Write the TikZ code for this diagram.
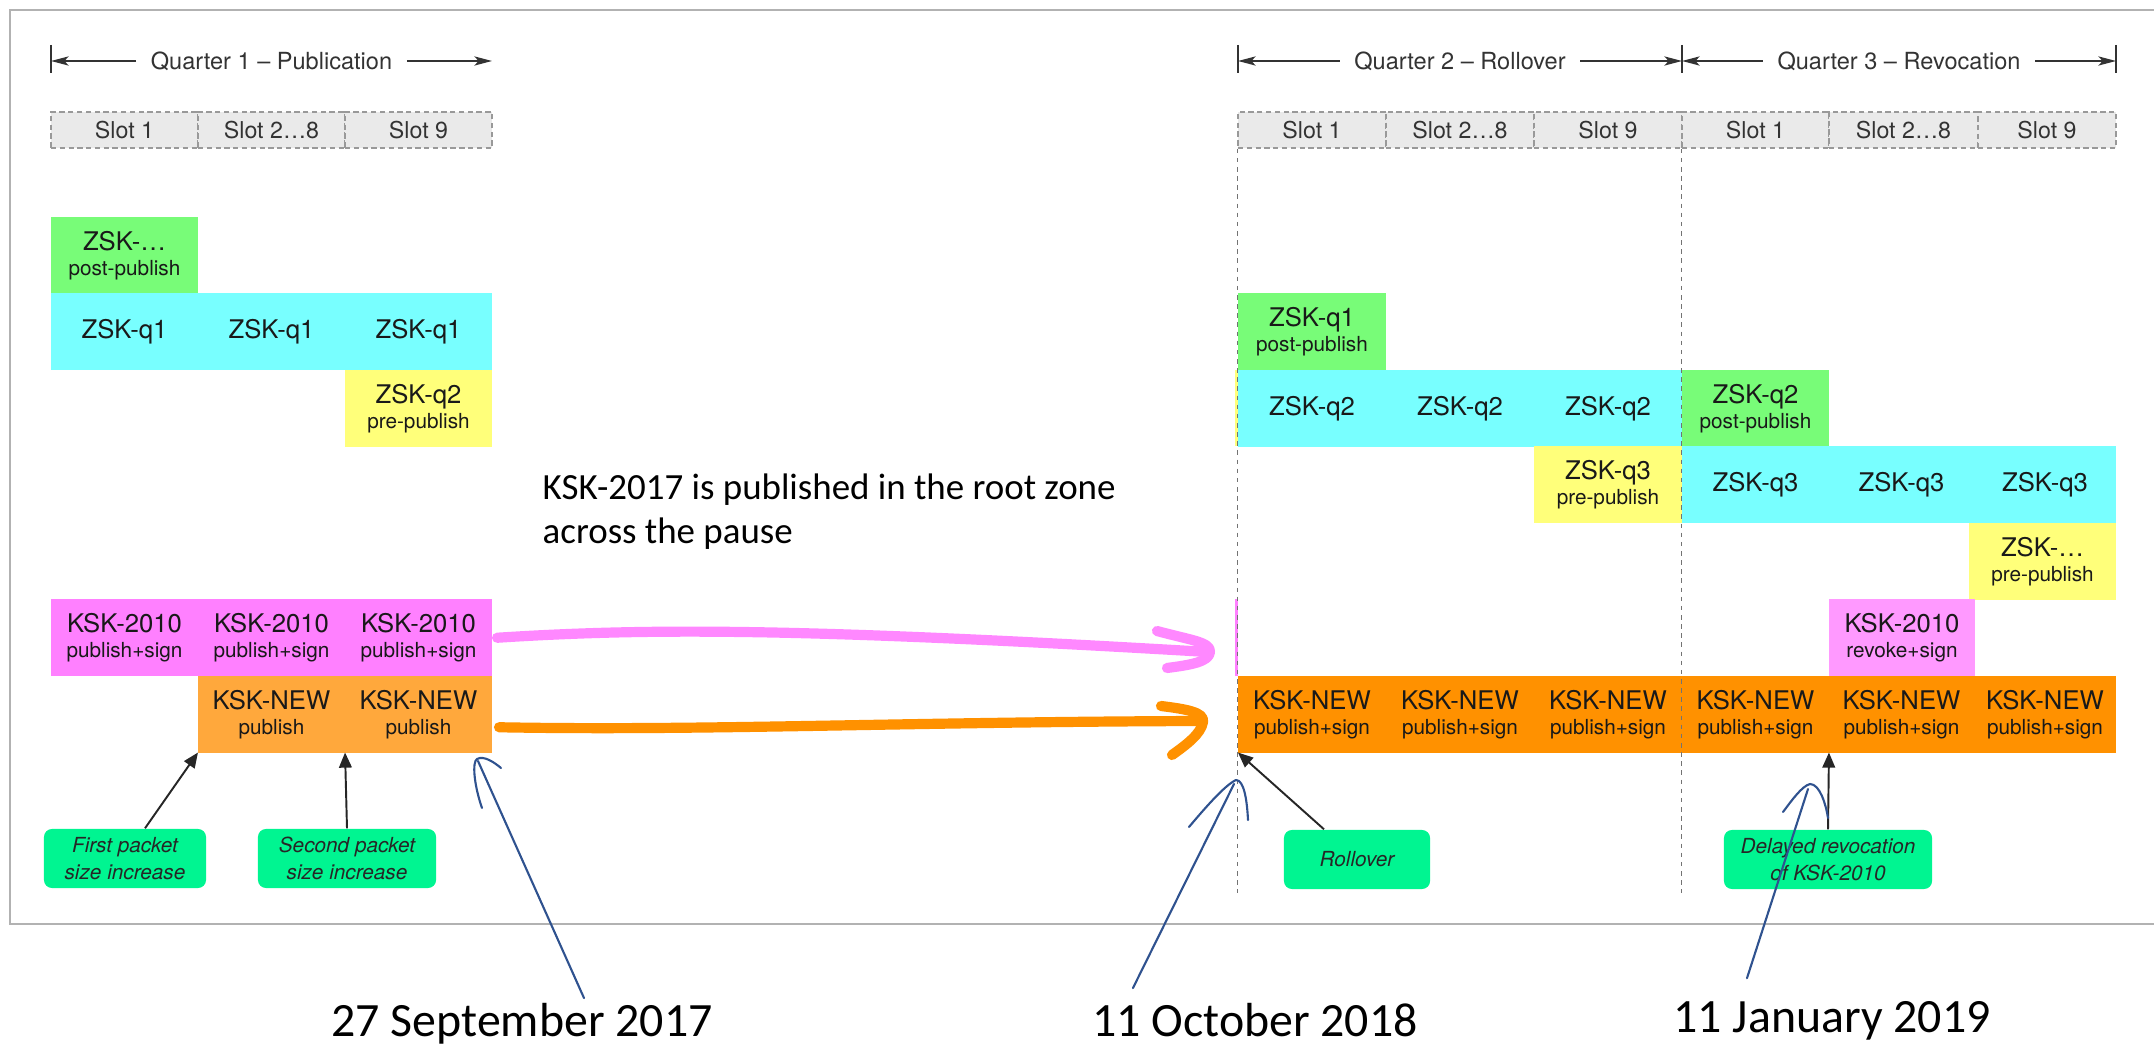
\documentclass[tikz,border=0pt]{standalone}
\usepackage{fontspec}
\newfontfamily\diagfont{TeX Gyre Heros}
\newfontfamily\notefont{Carlito}
\usepackage{xcolor}
\definecolor{postgreen}{RGB}{120,252,120}
\definecolor{zskcyan}{RGB}{120,255,255}
\definecolor{preyellow}{RGB}{255,255,122}
\definecolor{kskpink}{RGB}{255,128,255}
\definecolor{revpink}{RGB}{255,153,255}
\definecolor{neworange}{RGB}{255,145,0}
\definecolor{pubslot}{RGB}{255,168,60}
\definecolor{mint}{RGB}{0,245,145}
\definecolor{slotfill}{RGB}{234,234,234}
\definecolor{handblue}{RGB}{47,82,143}
\definecolor{arrowpink}{RGB}{255,136,255}
\usepackage{tikz}
\usetikzlibrary{positioning,arrows.meta}

\newcommand{\kfont}{\diagfont\fontsize{7.3}{7.1}\selectfont}
\newcommand{\ksub}{\fontsize{5.9}{6.6}\selectfont}
\newcommand{\keytxt}[2]{#1\\{\ksub #2}}

\begin{document}
\begin{tikzpicture}[x=0.01cm, y=-0.01cm,
  cell/.style={inner sep=0pt, outer sep=0pt, minimum height=0.765cm, minimum width=1.47cm, align=center, font=\kfont, text=black!90},
  wide/.style={minimum width=1.48cm},
  postpub/.style={cell, fill=postgreen},
  active/.style={cell, fill=zskcyan},
  prepub/.style={cell, fill=preyellow},
  oldksk/.style={cell, fill=kskpink},
  newksk/.style={cell, fill=neworange},
  slotbox/.style={draw=black!40, dash pattern=on 1.5pt off 1pt, line width=0.4pt, fill=slotfill, inner sep=0pt, minimum height=0.36cm, font=\diagfont\fontsize{6.6}{8}\selectfont, text=black!80},
  quarter/.style={inner xsep=4pt, inner ysep=0pt, font=\diagfont\fontsize{6.7}{8}\selectfont, text=black!80},
  span/.style={line width=0.6pt, black!80, -{Stealth[length=5pt,width=2.6pt,inset=1.2pt]}},
  bar/.style={line width=0.7pt, black!80},
  guide/.style={black!55, line width=0.4pt, dash pattern=on 1.3pt off 1.3pt},
  callout/.style={fill=mint, rounded corners=0.08cm, inner sep=0pt, minimum height=0.59cm, align=center, font=\diagfont\itshape\fontsize{5.9}{7.7}\selectfont, text=black!85},
  pointer/.style={line width=0.55pt, black!85, -{Triangle[length=4.3pt,width=3.6pt]}},
  fatpink/.style={arrowpink, line width=2.9pt, line cap=round, line join=round},
  fatorange/.style={neworange, line width=2.9pt, line cap=round, line join=round},
  hand/.style={handblue, line width=0.6pt, line cap=round, line join=round},
  date/.style={inner sep=0pt, text depth=0pt, font=\notefont\fontsize{13.6}{16}\selectfont, anchor=base}]

\useasboundingbox (0,0) rectangle (2154,1046);
\draw[black!30, line width=0.5pt] (10,10) rectangle (2190,924); %%% outer frame

%%% quarters
\coordinate (q1l) at (51,61);
\coordinate (q1r) at (492,61);
\coordinate (q2l) at (1238,61);
\coordinate (q23) at (1682,61);
\coordinate (q3r) at (2116,61);
\node[quarter] (q1) at (271.5,61) {Quarter 1 – Publication};
\node[quarter] (q2) at (1460,61) {Quarter 2 – Rollover};
\node[quarter] (q3) at (1899,61) {Quarter 3 – Revocation};
\draw[span] (q1) -- (q1l);
\draw[span] (q1) -- (q1r);
\draw[span] (q2) -- (q2l);
\draw[span] (q2) -- (q23);
\draw[span] (q3) -- (q23);
\draw[span] (q3) -- (q3r);
\foreach \c in {q1l,q2l,q23,q3r}
  \draw[bar] (\c) ++(0,-16) -- ++(0,28);

%%% slots
\foreach \x/\lab [count=\i] in {124.5/Slot 1, 271.5/Slot 2…8, 418.5/Slot 9}
  \node[slotbox, minimum width=1.47cm] (sl\i) at (\x,130) {\lab};
\foreach \x/\w/\lab [count=\i from 4] in {1312/1.48/Slot 1, 1460/1.48/Slot 2…8, 1608/1.48/Slot 9, 1755.5/1.47/Slot 1, 1903.5/1.49/Slot 2…8, 2047/1.38/Slot 9}
  \node[slotbox, minimum width=\w cm] (sl\i) at (\x,130) {\lab};

%%% quarter 1 keys
\node[postpub] (zdots) at (124.5,255.25) {\keytxt{ZSK-…}{post-publish}};
\foreach \x [count=\i] in {124.5,271.5,418.5}
  \node[active] (zqa\i) at (\x,331.75) {ZSK-q1};
\node[prepub] (zqb1) at (418.5,408.25) {\keytxt{ZSK-q2}{pre-publish}};
\foreach \x [count=\i] in {124.5,271.5,418.5}
  \node[oldksk] (ko\i) at (\x,637.75) {\keytxt{KSK-2010}{publish+sign}};
\foreach \x [count=\i] in {271.5,418.5}
  \node[newksk, fill=pubslot] (kn\i) at (\x,714.25) {\keytxt{KSK-NEW}{publish}};

%%% quarters 2 and 3 keys
\fill[preyellow] (1235,370) rectangle (1238,446.5);
\fill[kskpink] (1235,599.5) rectangle (1238,676);
\node[postpub, wide] (zqa4) at (1312,331.75) {\keytxt{ZSK-q1}{post-publish}};
\foreach \x [count=\i from 2] in {1312,1460,1608}
  \node[active, wide] (zqb\i) at (\x,408.25) {ZSK-q2};
\node[postpub] (zqb5) at (1755.5,408.25) {\keytxt{ZSK-q2}{post-publish}};
\node[prepub, wide] (zqc1) at (1608,484.75) {\keytxt{ZSK-q3}{pre-publish}};
\foreach \x/\w [count=\i from 2] in {1755.5/1.47, 1901.5/1.45, 2045/1.42}
  \node[active, minimum width=\w cm] (zqc\i) at (\x,484.75) {ZSK-q3};
\node[prepub] (znext) at (2042.5,561.25) {\keytxt{ZSK-…}{pre-publish}};
\node[oldksk, fill=revpink, minimum width=1.46cm] (krev) at (1902,637.75) {\keytxt{KSK-2010}{revoke+sign}};
\foreach \x/\w [count=\i from 3] in {1312/1.48, 1460/1.48, 1608/1.48, 1755.5/1.47, 1901.5/1.45, 2045/1.42}
  \node[newksk, minimum width=\w cm] (kn\i) at (\x,714.25) {\keytxt{KSK-NEW}{publish+sign}};

\draw[guide] (sl4.south west) -- ++(0,744);
\draw[guide] (sl7.south west) -- ++(0,744);

%%% events
\node[callout, minimum width=1.62cm] (c1) at (125,858.5) {First packet\\size increase};
\node[callout, minimum width=1.78cm] (c2) at (347,858.5) {Second packet\\size increase};
\node[callout, minimum width=1.46cm] (c3) at (1357,859.5) {Rollover};
\node[callout, minimum width=2.08cm] (c4) at (1828,859.5) {Delayed revocation\\of KSK-2010};
\draw[pointer] ([xshift=0.2cm]c1.north) -- (kn1.south west);
\draw[pointer] (c2.north) -- (kn1.south east);
\draw[pointer] ([xshift=-0.33cm]c3.north) -- (kn3.south west);
\draw[pointer] (c4.north) -- (kn7.south west);

%%% the pause
\node[inner sep=0pt, anchor=west, align=left, font=\notefont\fontsize{10.5}{12.5}\selectfont] (note) at (542,512) {KSK-2017 is published in the root zone\\across the pause};
\coordinate (pinkend) at (1208,652);
\coordinate (orangeend) at (1200,721);
\draw[fatpink] ([xshift=0.05cm]ko3.east) .. controls (650,628) and (800,628) .. (pinkend);
\draw[fatpink] (1157,631) .. controls (1190,640) and (1211,642) .. (1210,652) .. controls (1209,662) and (1190,665) .. (1167,668);
\draw[fatorange] ([shift={(7,13)}]kn2.east) .. controls (700,731) and (900,722) .. (orangeend);
\draw[fatorange] (1161,706) .. controls (1185,709) and (1205,712) .. (1203,722) .. controls (1201,734) and (1186,745) .. (1172,755);

%%% dates
\node[date] (d1) at (522,1036) {27 September 2017};
\node[date] (d2) at (1255,1036) {11 October 2018};
\node[date] (d3) at (1832,1032) {11 January 2019};
\coordinate (tipa) at (478,761);
\coordinate (tipb) at (1234,784);
\coordinate (tipc) at (1808,789);
\draw[hand] ([xshift=0.62cm,yshift=0.04cm]d1.north) -- (tipa);
\draw[hand] (482,808) .. controls (474,785) and (472,762) .. (477,759) .. controls (484,755) and (495,763) .. (501,768);
\draw[hand] ([xshift=-1.22cm,yshift=0.14cm]d2.north) -- (tipb);
\draw[hand] (1189,827) .. controls (1205,808) and (1225,785) .. (1236,780) .. controls (1244,780) and (1247,800) .. (1248,820);
\draw[hand] ([xshift=-0.85cm,yshift=0.22cm]d3.north) -- (tipc);
\draw[hand] (1783,812) .. controls (1792,800) and (1802,786) .. (1810,784) .. controls (1820,784) and (1826,805) .. (1828,818);

\end{tikzpicture}
\end{document}
